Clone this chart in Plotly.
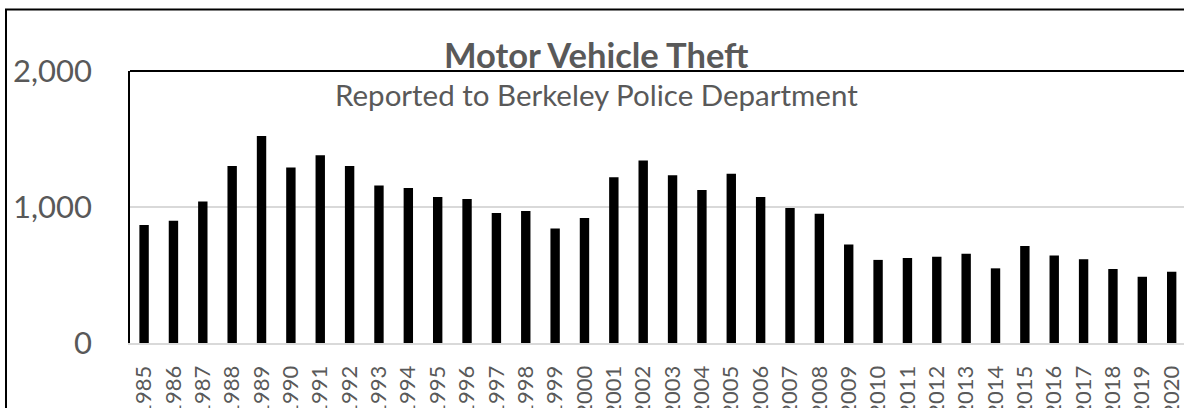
import plotly.graph_objects as go

years = [str(y) for y in range(1985, 2021)]
thefts = [868, 899, 1041, 1301, 1522, 1291, 1380, 1301, 1159, 1140,
          1074, 1059, 956, 970, 842, 919, 1219, 1342, 1233, 1125,
          1244, 1074, 993, 950, 724, 611, 625, 635, 657, 549,
          714, 643, 616, 544, 487, 524]
y_ticks = [0, 1000, 2000]
y_tick_labels = ["0", "1,000", "2,000"]

title_text = "Motor Vehicle Theft"
subtitle_text = "Reported to Berkeley Police Department"

FONT = "Lato"
GRAY = "#595959"

fig = go.Figure(go.Bar(x=years, y=thefts, marker_color="black",
                       marker_line_width=0, width=0.32))

fig.update_layout(
    width=1184, height=408,
    margin=dict(l=130, r=0, t=71, b=65, autoexpand=False),
    plot_bgcolor="white", paper_bgcolor="white",
    showlegend=False,
    font=dict(family=FONT, color=GRAY),
    xaxis=dict(type="category", range=[-0.48, 35.42], tickangle=-90,
               tickfont=dict(size=22, color=GRAY, family=FONT),
               showline=True, linecolor="#d9d9d9", linewidth=2,
               showgrid=False, ticks="", automargin=False,
               ticklabelstandoff=12),
    yaxis=dict(range=[0, 2000], tickvals=y_ticks, ticktext=y_tick_labels,
               tickfont=dict(size=31, color=GRAY, family=FONT),
               showgrid=True, gridcolor="#d9d9d9", gridwidth=1.5,
               zeroline=False, showline=True, linecolor="black", linewidth=1.5,
               ticks="", automargin=False, ticklabelstandoff=30),
    shapes=[
        dict(type="line", xref="paper", yref="paper", x0=0, x1=1.01, y0=1, y1=1,
             line=dict(color="black", width=2)),
        dict(type="rect", xref="paper", yref="paper",
             x0=(6 - 130) / 1054, x1=1.05, y0=-0.5, y1=(343 - 9.5) / 272,
             line=dict(color="black", width=2)),
    ],
    annotations=[
        dict(text="<b>" + title_text + "</b>", xref="paper", yref="paper",
             x=(596 - 130) / 1054, y=1.0, xanchor="center", yanchor="bottom",
             yshift=-6, showarrow=False,
             font=dict(size=34.5, color=GRAY, family=FONT)),
        dict(text=subtitle_text, xref="paper", yref="paper",
             x=(596 - 130) / 1054, y=(343 - 94) / 272, xanchor="center", yanchor="middle",
             showarrow=False, font=dict(size=29.5, color=GRAY, family=FONT)),
    ],
)

fig.write_html("out.html", config={"displayModeBar": False},
               post_script="document.body.style.margin='0';")
